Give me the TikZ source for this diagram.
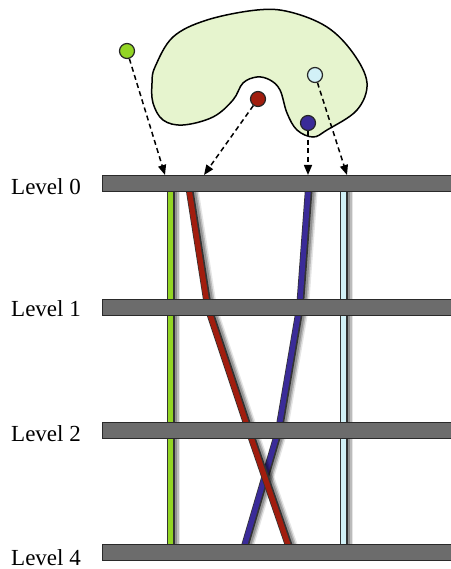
\documentclass[tikz,border=0pt]{standalone}
\usepackage{fontspec}
\setmainfont{Liberation Serif}
\usetikzlibrary{arrows.meta}
\definecolor{blobfill}{HTML}{E6F4CE}
\definecolor{barfill}{HTML}{6C6C6C}
\definecolor{baredge}{HTML}{2A2A2A}
\definecolor{cgreen}{HTML}{93D524}
\definecolor{cred}{HTML}{A11D0E}
\definecolor{cblue}{HTML}{3A2B98}
\definecolor{ccyan}{HTML}{D2F1F7}
\tikzset{
  bar/.style={draw=baredge, line width=1.2pt, fill=barfill, minimum width=349pt,
    minimum height=16pt, inner sep=0pt, anchor=north west},
  lvl/.style={font=\fontsize{23}{26}\selectfont, anchor=base west, inner sep=0pt,
    text depth=0pt},
  dot/.style={circle, draw=black!85, line width=1.2pt, minimum size=15pt, inner sep=0pt},
  link/.style={dash pattern=on 5pt off 3.5pt, line width=1.5pt,
    -{Triangle[length=10pt,width=8pt]}},
  strandshadow/.style={line width=7pt, black, line cap=butt, line join=round},
  strandedge/.style={line width=7.6pt, black!80, line cap=butt, line join=round},
}
\newcommand{\strand}[2]{%
  \foreach \dx/\op in {2.5/0.22,4/0.18,5.5/0.1}{
    \draw[strandshadow, opacity=\op, xshift=\dx pt] #2;}
  \draw[strandedge] #2;
  \draw[line width=5.2pt, #1, line cap=butt, line join=round, xshift=-0.5pt] #2;
}
\begin{document}
\begin{tikzpicture}[x=1pt, y=-1pt]
\useasboundingbox (0,0) rectangle (450,569);
\fill[white] (0,0) rectangle (450,569);

% the region holding three of the four points
\draw[line width=1.5pt, fill=blobfill]
  plot[smooth cycle, tension=0.6] coordinates {
    (155,67) (173,37) (207,20) (257,10) (290,12) (327,27) (353,53) (367,83)
    (357,110) (327,130) (313,137) (297,130) (287,113) (280,90) (270,80)
    (257,77) (243,83) (233,100) (213,117) (183,125) (163,120) (153,103) (152,83)};

% strands running down through the levels
\strand{cgreen}{(171,186) -- (171,549)}
\strand{ccyan}{(344,186) -- (344,549)}
\strand{cblue}{(309,186) -- (300,307) -- (279,430) -- (244,549)}
\strand{cred}{(189,186) -- (208,307) -- (249,430) -- (290,549)}

% levels
\node[bar] (bar0) at (102,175) {};
\node[bar] (bar1) at (102,299) {};
\node[bar] (bar2) at (102,422) {};
\node[bar] (bar4) at (102,544) {};
\node[lvl] (t0) at (11,195) {Level 0};
\node[lvl] (t1) at (11,316) {Level 1};
\node[lvl] (t2) at (11,441) {Level 2};
\node[lvl] (t4) at (11,565) {Level 4};

% points
\node[dot, fill=cgreen] (pg) at (127,51) {};
\node[dot, fill=cred] (pr) at (258,99) {};
\node[dot, fill=ccyan] (pc) at (315,75) {};
\node[dot, fill=cblue] (pb) at (308,123) {};

% targets on the top level
\coordinate (ag) at (165,175);
\coordinate (ar) at (204,175);
\coordinate (ab) at (308,175);
\coordinate (ac) at (347,175);
\draw[link] (pg) -- (ag);
\draw[link] (pr) -- (ar);
\draw[link] (pb) -- (ab);
\draw[link] (pc) -- (ac);
\end{tikzpicture}
\end{document}
